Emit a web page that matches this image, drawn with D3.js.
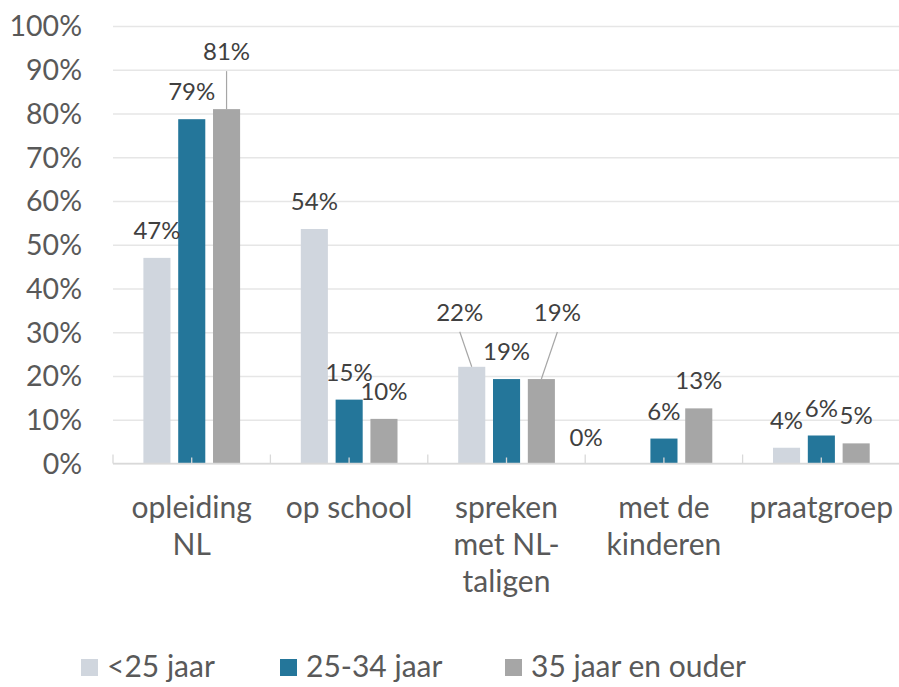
<!DOCTYPE html>
<html>
<head>
<meta charset="utf-8">
<script src="https://cdn.jsdelivr.net/npm/d3@7"></script>
<style>
  body { margin: 0; background: #fff; }
  svg text { font-family: Lato, "Open Sans", sans-serif; }
</style>
</head>
<body>
<div id="container"></div>
<script>
// data
var categories = ["opleiding NL", "op school", "spreken met NL-taligen", "met de kinderen", "praatgroep"];
var catLines = [["opleiding", "NL"], ["op school"], ["spreken", "met NL-", "taligen"], ["met de", "kinderen"], ["praatgroep"]];
var seriesNames = ["<25 jaar", "25-34 jaar", "35 jaar en ouder"];
var under25 = [0.470, 0.536, 0.221, 0.000, 0.036];
var age25to34 = [0.787, 0.146, 0.193, 0.057, 0.064];
var age35plus = [0.810, 0.102, 0.193, 0.126, 0.046];
var yTicks = [0, 0.1, 0.2, 0.3, 0.4, 0.5, 0.6, 0.7, 0.8, 0.9, 1];
var colors = ["#D0D6DE", "#24769A", "#A6A6A6"];

// labels Excel moved by hand: [category, series, dx, dy, leader line]
var movedLabels = [[0, 2, 0, -30, true], [2, 0, -12, -27, true], [2, 2, 16, -39, true], [3, 0, -43, 1, false]];

var width = 899, height = 687;
var plotLeft = 113, plotRight = 900, plotBottom = 463.5, plotTop = 26;
var fontSize = 30, axisFontSize = 28.5, labelFontSize = 24;

var svg = d3.select("#container").append("svg")
  .attr("width", width)
  .attr("height", height);

var x = d3.scaleBand().domain(categories).range([plotLeft, plotRight]);
var x1 = d3.scaleBand().domain(seriesNames).range([30.4, 127.1]).paddingInner(0.222);
var y = d3.scaleLinear().domain([0, 1]).range([plotBottom, plotTop]);

// gridlines
svg.append("g")
  .attr("class", "grid")
  .attr("transform", "translate(" + plotLeft + ",0)")
  .call(d3.axisLeft(y).tickValues(yTicks).tickSize(-(plotRight - plotLeft)).tickFormat(""))
  .call(function (g) { g.select(".domain").remove(); })
  .call(function (g) { g.selectAll("line").attr("stroke", "#e6e6e6").attr("stroke-width", 1.3); });

// y axis labels
svg.append("g")
  .attr("transform", "translate(82,0)")
  .call(d3.axisLeft(y).tickValues(yTicks).tickSize(0).tickPadding(0).tickFormat(d3.format(".0%")))
  .call(function (g) { g.select(".domain").remove(); })
  .call(function (g) {
    g.selectAll("text").attr("font-size", axisFontSize).attr("fill", "#595959")
      .attr("font-family", "Lato, 'Open Sans', sans-serif").attr("dy", "0.35em");
  });

var rows = categories.map(function (c, i) {
  return { cat: c, i: i, values: [under25[i], age25to34[i], age35plus[i]] };
});

var groups = svg.selectAll(".group")
  .data(rows)
  .enter().append("g")
  .attr("class", "group")
  .attr("transform", function (d) { return "translate(" + x(d.cat) + ",0)"; });

groups.selectAll("rect")
  .data(function (d) { return d.values.map(function (v, s) { return { v: v, s: s }; }); })
  .enter().append("rect")
  .attr("x", function (d) { return x1(seriesNames[d.s]); })
  .attr("width", x1.bandwidth())
  .attr("y", function (d) { return y(d.v); })
  .attr("height", function (d) { return plotBottom - y(d.v); })
  .attr("fill", function (d) { return colors[d.s]; });

// x axis line and ticks
svg.append("line")
  .attr("x1", plotLeft).attr("x2", plotRight)
  .attr("y1", plotBottom).attr("y2", plotBottom)
  .attr("stroke", "#d9d9d9").attr("stroke-width", 1.5);

categories.forEach(function (c) {
  svg.append("line")
    .attr("x1", x(c)).attr("x2", x(c))
    .attr("y1", plotBottom).attr("y2", plotBottom - 9)
    .attr("stroke", "#d9d9d9").attr("stroke-width", 1.3);
  svg.append("line")
    .attr("x1", x(c) + x.bandwidth() / 2).attr("x2", x(c) + x.bandwidth() / 2)
    .attr("y1", plotBottom).attr("y2", plotBottom - 6)
    .attr("stroke", "#d9d9d9").attr("stroke-width", 1.3);
});

// data labels
rows.forEach(function (r) {
  r.values.forEach(function (v, s) {
    var cx = x(r.cat) + x1(seriesNames[s]) + x1.bandwidth() / 2;
    var by = y(v) - 19;
    var dx = 0, dy = 0, leader = false;
    movedLabels.forEach(function (m) {
      if (m[0] === r.i && m[1] === s) { dx = m[2]; dy = m[3]; leader = m[4]; }
    });
    if (leader) {
      svg.append("line")
        .attr("x1", cx + dx).attr("y1", by + dy + 11)
        .attr("x2", cx).attr("y2", y(v))
        .attr("stroke", "#a6a6a6").attr("stroke-width", 1.2);
    }
    svg.append("text")
      .attr("x", cx + dx)
      .attr("y", by + dy)
      .attr("text-anchor", "middle")
      .attr("font-size", labelFontSize)
      .attr("fill", "#404040")
      .text(d3.format(".0%")(v));
  });
});

// category labels
categories.forEach(function (c, i) {
  var t = svg.append("text")
    .attr("text-anchor", "middle")
    .attr("font-size", fontSize)
    .attr("fill", "#595959");
  catLines[i].forEach(function (line, k) {
    t.append("tspan")
      .attr("x", x(c) + x.bandwidth() / 2)
      .attr("y", 518 + k * 37)
      .text(line);
  });
});

// legend
var legendX = [81, 280, 505];
var legend = svg.selectAll(".legend")
  .data(seriesNames)
  .enter().append("g")
  .attr("class", "legend")
  .attr("transform", function (d, i) { return "translate(" + legendX[i] + ",0)"; });

legend.append("rect")
  .attr("x", 0).attr("y", 659)
  .attr("width", 17).attr("height", 17)
  .attr("fill", function (d, i) { return colors[i]; });

legend.append("text")
  .attr("x", 26).attr("y", 677)
  .attr("font-size", fontSize)
  .attr("fill", "#595959")
  .text(function (d) { return d; });
</script>
</body>
</html>
